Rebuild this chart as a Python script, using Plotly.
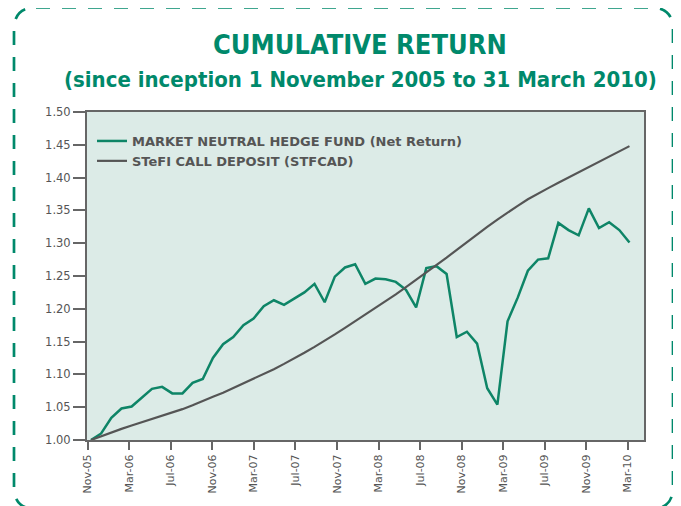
import plotly.graph_objects as go

# ---------------- data ----------------
fund_values = [
    1.000, 1.010, 1.034, 1.048, 1.051, 1.065, 1.078, 1.081, 1.071, 1.071,
    1.087, 1.093, 1.125, 1.146, 1.157, 1.175, 1.185, 1.204, 1.213, 1.206,
    1.216, 1.225, 1.238, 1.210, 1.249, 1.263, 1.268, 1.238, 1.246, 1.245,
    1.241, 1.229, 1.202, 1.262, 1.265, 1.253, 1.157, 1.165, 1.147, 1.079,
    1.054, 1.181, 1.217, 1.258, 1.275, 1.277, 1.331, 1.320, 1.312, 1.353,
    1.323, 1.332, 1.320, 1.301,
]
stefi_values = [
    1.000, 1.006, 1.012, 1.017, 1.022, 1.027, 1.031, 1.036, 1.042, 1.047,
    1.053, 1.060, 1.066, 1.072, 1.079, 1.086, 1.093, 1.100, 1.108, 1.116,
    1.124, 1.133, 1.142, 1.151, 1.161, 1.171, 1.181, 1.191, 1.201, 1.211,
    1.222, 1.233, 1.244, 1.255, 1.266, 1.278, 1.290, 1.302, 1.313, 1.325,
    1.336, 1.347, 1.357, 1.367, 1.376, 1.384, 1.392, 1.400, 1.408, 1.416,
    1.424, 1.432, 1.440, 1.448,
]
obs_index = list(range(len(fund_values)))

tick_labels = ["Nov-05", "Mar-06", "Jul-06", "Nov-06", "Mar-07", "Jul-07", "Nov-07",
               "Mar-08", "Jul-08", "Nov-08", "Mar-09", "Jul-09", "Nov-09", "Mar-10"]
tick_months = [0, 4, 8, 12, 16, 20, 24, 28, 32, 36, 40, 44, 48, 52]
y_ticks = [1.00, 1.05, 1.10, 1.15, 1.20, 1.25, 1.30, 1.35, 1.40, 1.45, 1.50]

series_names = ["MARKET NEUTRAL HEDGE FUND (Net Return)", "STeFI CALL DEPOSIT (STFCAD)"]

# ---------------- style ----------------
GREEN = "#00896b"
LINE_GREEN = "#0e8567"
GRAY = "#555555"
BG = "#dcebe7"
OFF = 8                     # page body margin
W, H = 681 - OFF, 506 - OFF
L, R, T, B = 79, 37, 104, 66


def px(xp, yp):
    """reference-pixel position -> paper coordinates"""
    pw = W - L - R
    ph = H - T - B
    return (xp - OFF - L) / pw, (H - B - (yp - OFF)) / ph


fig = go.Figure()
fig.add_trace(go.Scatter(x=obs_index, y=fund_values, mode="lines", name=series_names[0],
                         line=dict(color=LINE_GREEN, width=2.5)))
fig.add_trace(go.Scatter(x=obs_index, y=stefi_values, mode="lines", name=series_names[1],
                         line=dict(color=GRAY, width=2.2)))
fig.add_trace(go.Scatter(x=[], y=[], xaxis="x2", yaxis="y", showlegend=False, hoverinfo="skip"))

# rounded dashed frame
x0, y0 = px(14, 7.5)
x1, y1 = px(673, 509)
rx = 22 / (W - L - R)
ry = 22 / (H - T - B)
path = (f"M {x0+rx},{y0} L {x1-rx},{y0} Q {x1},{y0} {x1},{y0-ry} "
        f"L {x1},{y1+ry} Q {x1},{y1} {x1-rx},{y1} L {x0+rx},{y1} "
        f"Q {x0},{y1} {x0},{y1+ry} L {x0},{y0-ry} Q {x0},{y0} {x0+rx},{y0} Z")

tx, ty1 = px(360, 44)
_, ty2 = px(360, 79)

fig.update_layout(
    width=W, height=H,
    margin=dict(l=L, r=R, t=T, b=B),
    paper_bgcolor="white",
    plot_bgcolor=BG,
    showlegend=True,
    legend=dict(x=px(92, 0)[0], y=px(0, 126)[1], xanchor="left", yanchor="top",
                bgcolor="rgba(0,0,0,0)", borderwidth=0,
                font=dict(family="DejaVu Sans", size=13, color=GRAY, weight="bold"),
                tracegroupgap=0),
    xaxis=dict(range=[-0.394, 54.43], showticklabels=False, ticks="", showline=False,
               showgrid=False, zeroline=False, fixedrange=True),
    xaxis2=dict(overlaying="x", anchor="y", side="bottom", range=[-0.058, 53.55],
                tickmode="array", tickvals=tick_months, ticktext=tick_labels,
                tickangle=-90, ticks="outside", ticklen=8, tickwidth=1.5, tickcolor="#666666",
                showline=True, linecolor="#666666", linewidth=2, mirror=True,
                showgrid=False, zeroline=False,
                tickfont=dict(family="DejaVu Sans", size=11, color="#555555")),
    yaxis=dict(range=[1.0, 1.5], tickmode="array", tickvals=y_ticks,
               ticktext=[f"{v:.2f}" for v in y_ticks],
               ticks="outside", ticklen=12, tickwidth=1.5, tickcolor="#666666",
               showline=True, linecolor="#666666", linewidth=2, mirror=True,
               showgrid=False, zeroline=False,
               tickfont=dict(family="DejaVu Sans", size=11.5, color="#555555")),
    shapes=[dict(type="path", xref="paper", yref="paper", path=path,
                 line=dict(color=GREEN, width=2.7, dash="14px,12px"))],
    annotations=[
        dict(text="CUMULATIVE RETURN", x=tx, y=ty1, xref="paper", yref="paper",
             xanchor="center", yanchor="middle", showarrow=False,
             font=dict(family="DejaVu Sans Condensed", size=27, color=GREEN, weight="bold")),
        dict(text="(since inception 1 November 2005 to 31 March 2010)", x=tx, y=ty2,
             xref="paper", yref="paper", xanchor="center", yanchor="middle", showarrow=False,
             font=dict(family="DejaVu Sans Condensed", size=22, color=GREEN, weight="bold")),
    ],
)

fig.write_html("out.html")
